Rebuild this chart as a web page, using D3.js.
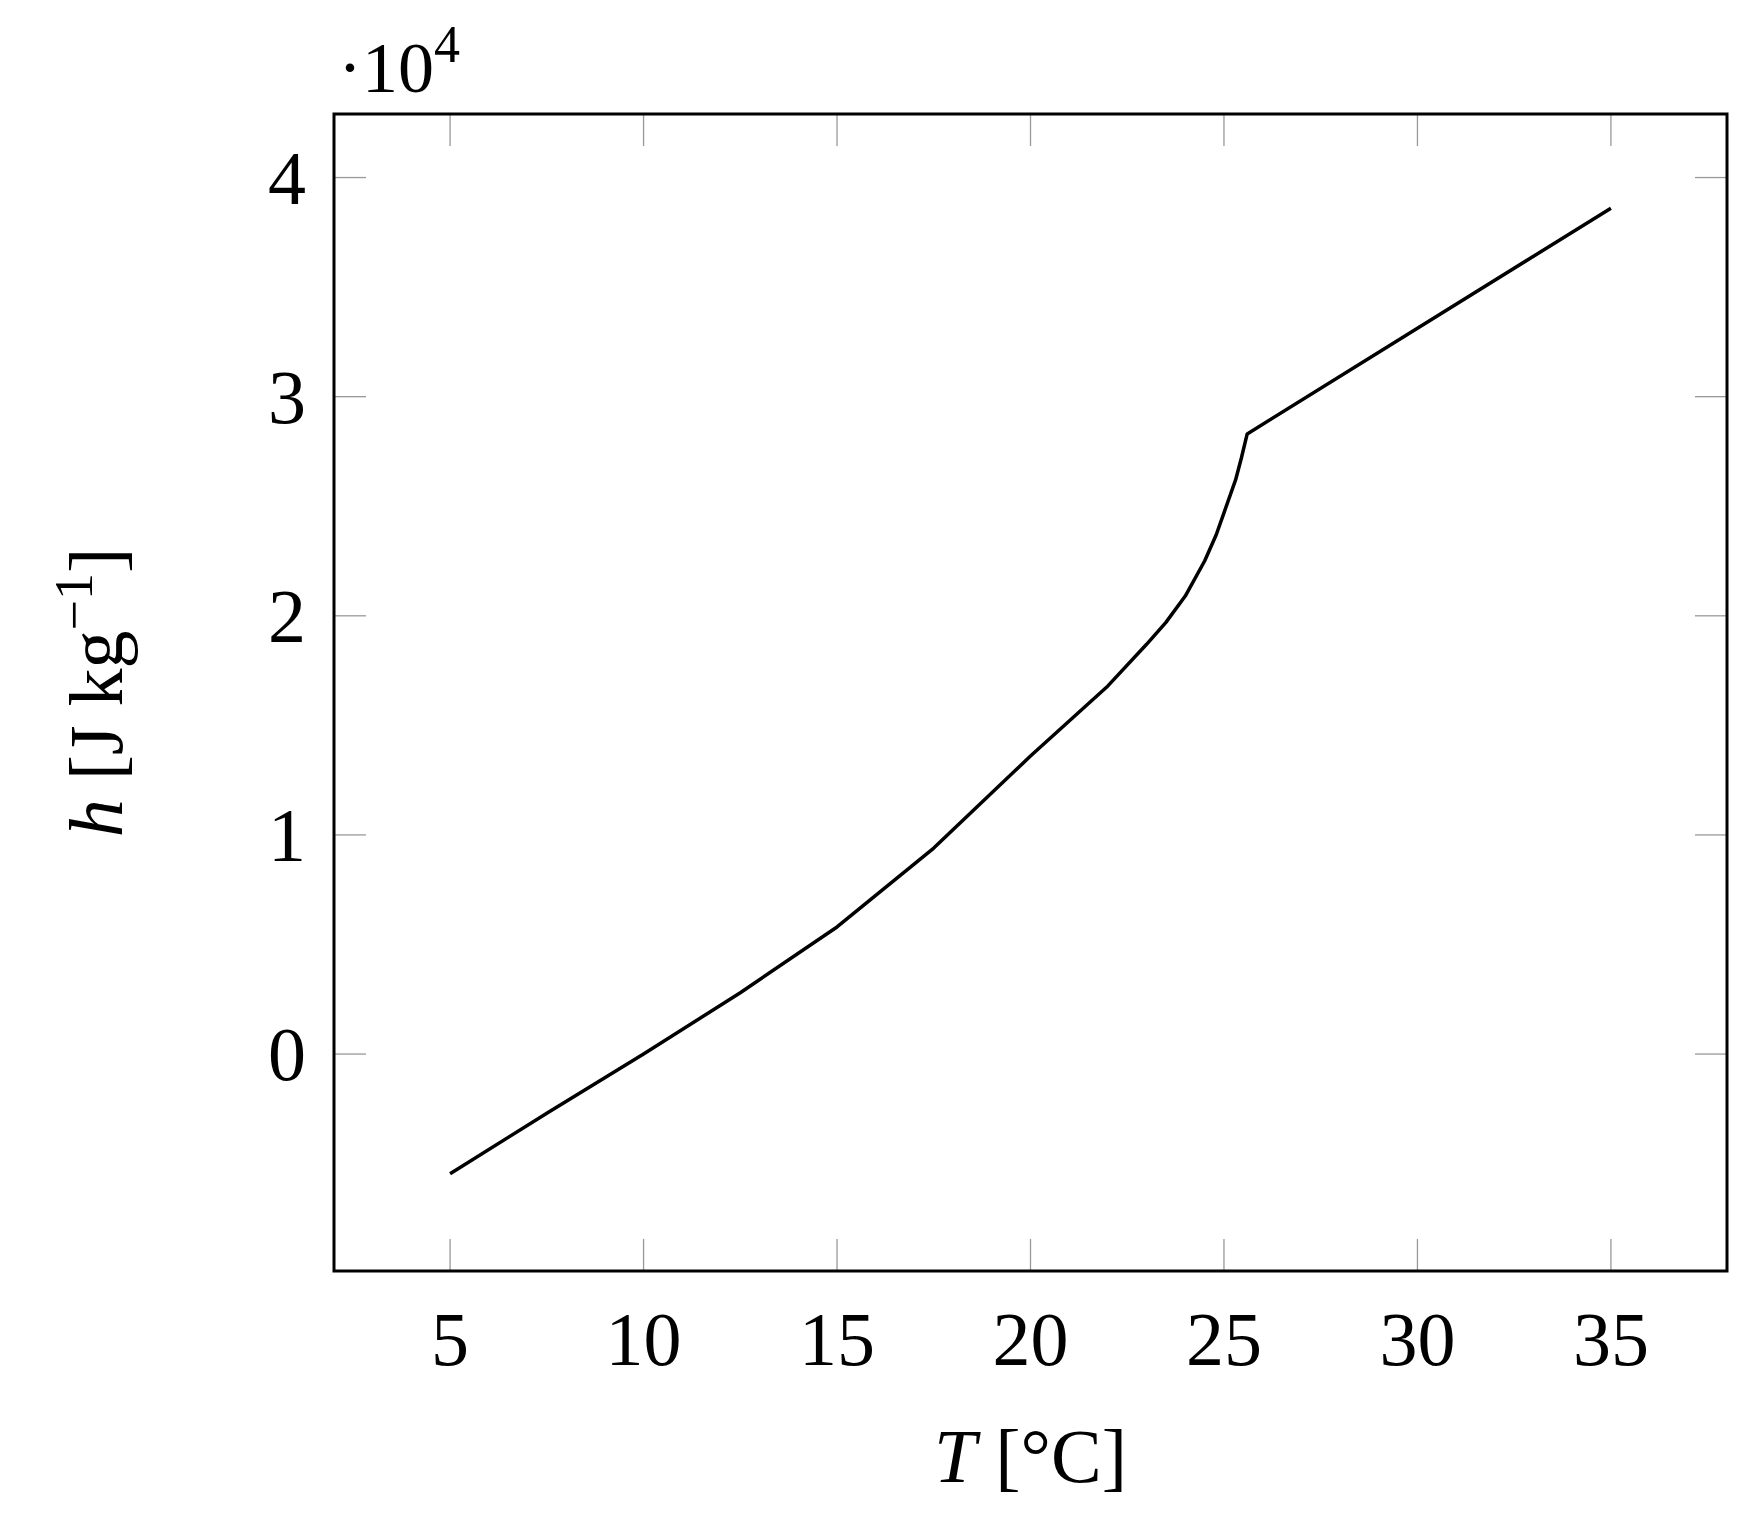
<!DOCTYPE html><html><head><meta charset="utf-8"><script src="https://cdn.jsdelivr.net/npm/d3@7"></script>
<style>body{margin:0;background:#fff}text{font-family:"Liberation Serif","DejaVu Serif",serif;fill:#000}</style></head><body>
<svg id="c" width="1761" height="1519"></svg>
<script>
const T=[5,7.5,10,12.5,15,17.5,20,21,22,23,23.5,24,24.5,24.8,25,25.3,25.45,25.6,35];
const H=[-0.546,-0.27,0,0.28,0.58,0.94,1.36,1.52,1.68,1.87,1.97,2.09,2.25,2.37,2.47,2.62,2.72,2.83,3.86];
const xTicks=[5,10,15,20,25,30,35];
const yTicks=[0,1,2,3,4];
const svg=d3.select("#c");
const L=334,R=1727,Tp=114,B=1271;
const x=d3.scaleLinear().domain([2,38]).range([L,R]);
const y=d3.scaleLinear().domain([-0.99,4.29]).range([B,Tp]);
const g=svg.append("g");
const tl=32;
xTicks.forEach(t=>{g.append("line").attr("x1",x(t)).attr("x2",x(t)).attr("y1",B).attr("y2",B-tl).attr("stroke","#999").attr("stroke-width",1.3);
 g.append("line").attr("x1",x(t)).attr("x2",x(t)).attr("y1",Tp).attr("y2",Tp+tl).attr("stroke","#999").attr("stroke-width",1.3);
 g.append("text").attr("x",x(t)).attr("y",B+94).attr("text-anchor","middle").attr("font-size",76).text(t);});
yTicks.forEach(t=>{g.append("line").attr("y1",y(t)).attr("y2",y(t)).attr("x1",L).attr("x2",L+tl).attr("stroke","#999").attr("stroke-width",1.3);
 g.append("line").attr("y1",y(t)).attr("y2",y(t)).attr("x1",R).attr("x2",R-tl).attr("stroke","#999").attr("stroke-width",1.3);
 g.append("text").attr("x",L-28).attr("y",y(t)+26).attr("text-anchor","end").attr("font-size",76).text(t);});
svg.append("path").datum(T.map((t,i)=>[t,H[i]])).attr("d",d3.line().x(d=>x(d[0])).y(d=>y(d[1])).curve(d3.curveLinear)).attr("fill","none").attr("stroke","#000").attr("stroke-width",3.5).attr("stroke-linejoin","round");
svg.append("rect").attr("x",L).attr("y",Tp).attr("width",R-L).attr("height",B-Tp).attr("fill","none").attr("stroke","#000").attr("stroke-width",3);
const xl=svg.append("text").attr("x",(L+R)/2).attr("y",1482).attr("text-anchor","middle").attr("font-size",76);
xl.append("tspan").attr("font-style","italic").text("T");xl.append("tspan").text(" [°C]");
const yl=svg.append("text").attr("transform",`translate(122,${(Tp+B)/2}) rotate(-90)`).attr("text-anchor","middle").attr("font-size",76);
yl.append("tspan").attr("font-style","italic").text("h");yl.append("tspan").text(" [J kg");yl.append("tspan").attr("dy",-30).attr("font-size",54).text("−1");yl.append("tspan").attr("dy",30).text("]");
const ex=svg.append("text").attr("x",338).attr("y",92).attr("font-size",72);
ex.append("tspan").text("·10");ex.append("tspan").attr("dy",-30).attr("font-size",52).text("4");
</script></body></html>
